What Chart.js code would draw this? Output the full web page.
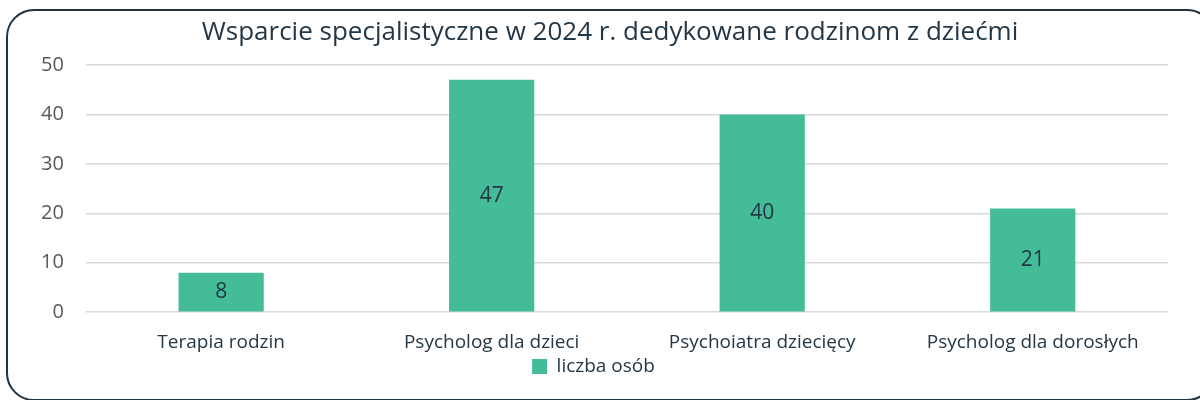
<!DOCTYPE html>
<html>
<head>
<meta charset="utf-8">
<script src="https://cdn.jsdelivr.net/npm/chart.js@4"></script>
<style>
  html, body { margin: 0; padding: 0; background: #fff; }
  #wrap { position: relative; width: 1200px; height: 400px; overflow: hidden; }
  #frame { position: absolute; left: 6px; top: 9px; width: 1205px; height: 388px;
           border: 2px solid #1f3342; border-radius: 28px; }
  canvas { position: absolute; left: 0; top: 0; }
</style>
</head>
<body>
<div id="wrap">
  <div id="frame"></div>
  <canvas id="chart" width="1200" height="400"></canvas>
</div>
<script>
const ctx = document.getElementById('chart').getContext('2d');

const title = 'Wsparcie specjalistyczne w 2024 r. dedykowane rodzinom z dziećmi';
const labels = ['Terapia rodzin', 'Psycholog dla dzieci', 'Psychoiatra dziecięcy', 'Psycholog dla dorosłych'];
const seriesName = 'liczba osób';
const values = [8, 47, 40, 21];
const yTicks = [0, 10, 20, 30, 40, 50];

const font = '"Open Sans", Lato, sans-serif';
const textDark = '#243746';

// tytuł rysowany ręcznie, bo w oryginale jest lekko przesunięty w prawo
const titlePlugin = {
    id: 'titlePlugin',
    afterDraw(chart) {
        const c = chart.ctx;
        c.save();
        c.font = '26px ' + font;
        c.fillStyle = textDark;
        c.textAlign = 'center';
        c.textBaseline = 'middle';
        c.fillText(title, 610, 33);
        c.restore();
    }
};

// etykiety wartości na środku słupków
const barLabels = {
    id: 'barLabels',
    afterDatasetsDraw(chart) {
        const c = chart.ctx;
        c.save();
        c.font = '21px ' + font;
        c.fillStyle = textDark;
        c.textAlign = 'center';
        c.textBaseline = 'middle';
        chart.getDatasetMeta(0).data.forEach((bar, i) => {
            const mid = (bar.y + bar.base) / 2;
            c.fillText(String(values[i]), bar.x, mid);
        });
        c.restore();
    }
};

new Chart(ctx, {
    type: 'bar',
    data: {
        labels,
        datasets: [{
            label: seriesName,
            data: values,
            backgroundColor: '#43bc97',
            barPercentage: 1,
            categoryPercentage: 0.315
        }]
    },
    options: {
        responsive: false,
        animation: false,
        layout: { padding: { left: 19, right: 32, top: 65, bottom: 14 } },
        plugins: {
            legend: {
                position: 'bottom',
                labels: {
                    color: textDark,
                    font: { family: font, size: 19 },
                    boxWidth: 15,
                    boxHeight: 15,
                    padding: 0
                }
            },
            tooltip: { enabled: false }
        },
        scales: {
            x: {
                grid: { display: false, drawTicks: false },
                border: { display: false },
                ticks: { color: textDark, font: { family: font, size: 19 }, padding: 19 },
                afterFit(axis) { axis.height -= 16; }
            },
            y: {
                min: 0,
                max: 50,
                afterBuildTicks(axis) { axis.ticks = yTicks.map(v => ({ value: v })); },
                grid: { color: '#d9d9d9', lineWidth: 1.5, drawTicks: false },
                border: { display: false },
                ticks: { color: '#595959', font: { family: font, size: 20 }, padding: 22 }
            }
        }
    },
    plugins: [barLabels, titlePlugin]
});
</script>
</body>
</html>
